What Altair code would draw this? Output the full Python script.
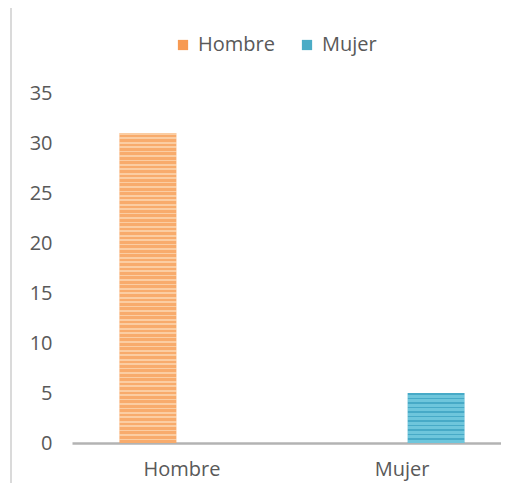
import altair as alt
import pandas as pd

categories = ["Hombre", "Hombre", "Mujer", "Mujer"]
series = ["Hombre", "Mujer", "Hombre", "Mujer"]
values = [31, 0, 0, 5]

df = pd.DataFrame({"categoria": categories, "serie": series, "valor": values})

FONT = "Open Sans"
TXT = "#595959"
FS = 20


def stripes(base, line, n, frac):
    stops = []
    for i in range(n):
        a = i / n
        b = (i + frac) / n
        c = (i + 1) / n
        stops += [
            alt.GradientStop(color=line, offset=round(a, 5)),
            alt.GradientStop(color=line, offset=round(b, 5)),
            alt.GradientStop(color=base, offset=round(b, 5)),
            alt.GradientStop(color=base, offset=round(min(c, 1.0), 5)),
        ]
    return alt.LinearGradient(gradient="linear", stops=stops, x1=0, x2=0, y1=0, y2=1)


x_enc = alt.X(
    "categoria:N",
    sort=["Hombre", "Mujer"],
    scale=alt.Scale(paddingInner=0, paddingOuter=0, range=[0, 440]),
    axis=alt.Axis(
        title=None, labelAngle=0, ticks=False, domainColor="#B3B3B3", domainWidth=2.5,
        labelPadding=16, labelFontSize=FS, labelColor=TXT, labelFont=FONT,
    ),
)
xo_enc = alt.XOffset(
    "serie:N", sort=["Hombre", "Mujer"],
    scale=alt.Scale(paddingInner=0.17, paddingOuter=0.70),
)
y_enc = alt.Y(
    "valor:Q",
    scale=alt.Scale(domain=[0, 35], nice=False),
    axis=alt.Axis(
        title=None, values=[0, 5, 10, 15, 20, 25, 30, 35], grid=False, ticks=False,
        domain=False, labelPadding=20, labelFontSize=FS, labelColor=TXT, labelFont=FONT,
    ),
)

base = alt.Chart(df).mark_bar().encode(
    x=x_enc, xOffset=xo_enc, y=y_enc,
    color=alt.Color(
        "serie:N",
        scale=alt.Scale(domain=["Hombre", "Mujer"], range=["#F79A52", "#4BACC6"]),
        legend=alt.Legend(
            title=None, orient="none", direction="horizontal", legendX=101, legendY=-58,
            symbolType="square", symbolSize=105, symbolStrokeWidth=0,
            labelFontSize=FS, labelColor=TXT, labelFont=FONT, columnPadding=22, labelOffset=5,
        ),
    ),
)

over_h = alt.Chart(df).transform_filter(alt.datum.serie == "Hombre").mark_bar(
    color=stripes("#F8AB6C", "#FBCDA2", 70, 0.4)
).encode(x=x_enc, xOffset=xo_enc, y=y_enc)

over_m = alt.Chart(df).transform_filter(alt.datum.serie == "Mujer").mark_bar(
    color=stripes("#6EC6DC", "#47AAC7", 11, 0.35)
).encode(x=x_enc, xOffset=xo_enc, y=y_enc)

border = alt.Chart(df).mark_rule(color="#DADADA", strokeWidth=1.5).encode(
    x=alt.value(-61), y=alt.value(-90), y2=alt.value(410)
)

chart = alt.layer(base, over_h, over_m, border).properties(
    width=429, height=350,
    autosize=alt.AutoSizeParams(type="none"),
    padding={"left": 64, "top": 85, "right": 0, "bottom": 40},
).configure_view(stroke=None)

chart.save("out.html", embed_options={"renderer": "svg", "actions": False})
